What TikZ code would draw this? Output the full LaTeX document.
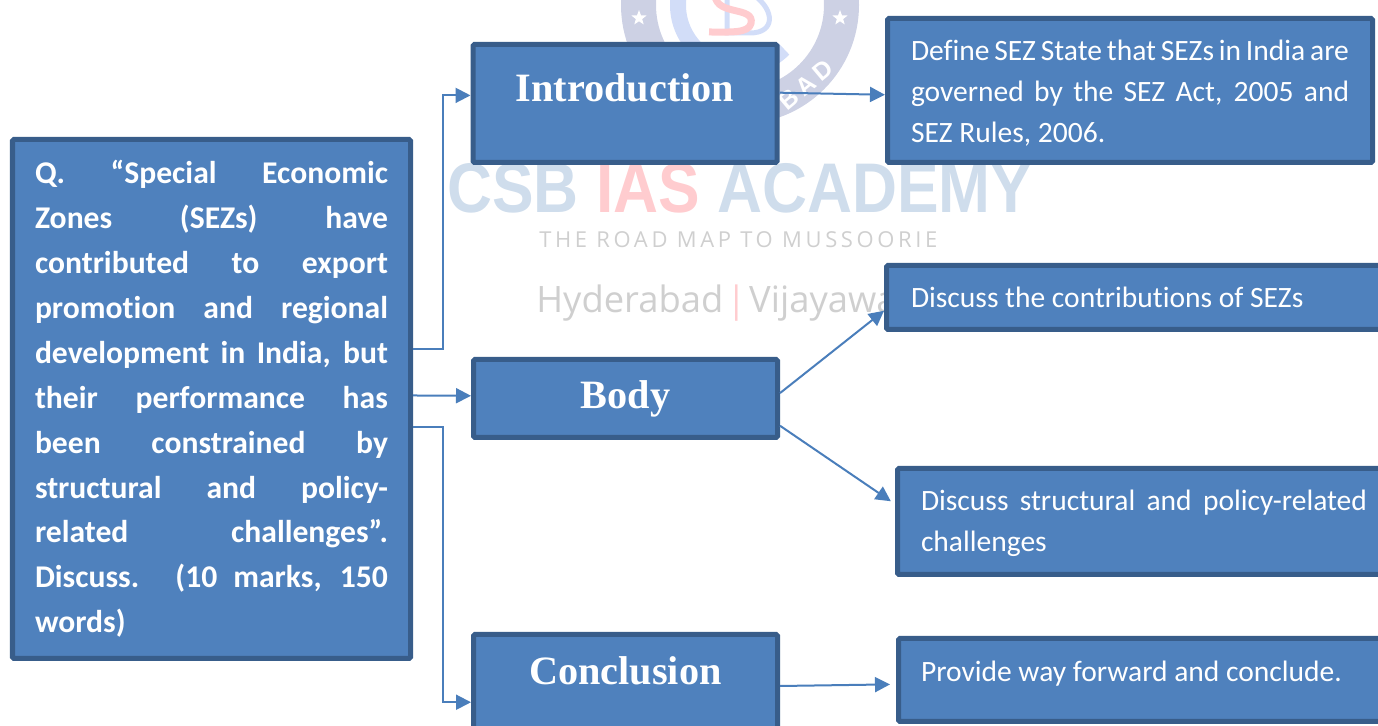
\documentclass[tikz,border=0pt]{standalone}
\usepackage{fontspec}
\usetikzlibrary{arrows.meta,shapes.geometric}
\setmainfont[Ligatures=NoCommon]{Carlito}
\newfontfamily\headfont{Liberation Serif}
\newfontfamily\markfont{Liberation Sans}
\newfontfamily\arcfont[LetterSpace=20]{Liberation Sans}
\newfontfamily\roadfont[LetterSpace=16.5]{Open Sans}
\newfontfamily\cityfont{Open Sans}
\definecolor{boxfill}{HTML}{4F81BD}
\definecolor{boxline}{HTML}{385D8A}
\definecolor{linkblue}{HTML}{4A7EBB}
\definecolor{ringgrey}{HTML}{CDD1E4}
\definecolor{ringblue}{HTML}{D2DDF8}
\definecolor{markblue}{HTML}{CFDDEC}
\definecolor{markred}{HTML}{FFCCCF}
\definecolor{markgrey}{HTML}{CFCFCF}
\newcommand{\jline}[1]{\makebox[\hsize][s]{#1}\\}
\begin{document}
\begin{tikzpicture}[
    box/.style={rectangle, draw=boxline, fill=boxfill, line width=.1cm, rounded corners=.03cm, text=white, inner sep=0pt},
    headbox/.style={box, minimum width=6.08cm, text height=.5cm, font=\headfont\fontsize{22.9}{27}\selectfont\bfseries},
    notebox/.style={box, align=flush left, font=\fontsize{16.8}{23.3}\selectfont},
    link/.style={draw=linkblue, line width=.04cm, -{Triangle[length=.3cm,width=.3cm]}},
    ringstar/.style={star, star points=5, star point ratio=2.4, fill=white, minimum size=.32cm, inner sep=0pt}
]
\clip (0,0) rectangle (27.56,14.52);
\useasboundingbox (0,0) rectangle (27.56,14.52);

% Watermark
\draw[ringgrey, line width=.7cm] (14.8,14.42) circle (2.03cm);
\draw[ringblue, line width=.32cm] (14.8,14.42) ++(170:1.24) arc (170:315:1.24);
\node[ringstar] (starleft) at (12.78,14.16) {};
\node[ringstar] (starright) at (16.8,14.16) {};
\draw[ringblue, line width=.1cm] (14.54,14.6) -- (14.54,13.86) -- (15.0,13.86) .. controls (15.5,13.86) and (15.5,14.3) .. (15.1,14.6);
\draw[markred, line width=.14cm] (14.3,14.6) .. controls (14.35,14.2) and (15.1,14.4) .. (15.02,14.05) .. controls (14.97,13.85) and (14.6,13.88) .. (14.18,13.88);
\node[font=\arcfont\bfseries\fontsize{14}{16}\selectfont, text=white, rotate=40] (cityarc) at (16.12,12.82) {BAD};
\node[font=\markfont\bfseries\fontsize{40}{44}\selectfont, text=markblue, anchor=base west, inner sep=0pt, xscale=.886, transform shape] (markname) at (8.94,10.26) {CSB \textcolor{markred}{IAS} ACADEMY};
\node[font=\roadfont\fontsize{12.5}{15}\selectfont, text=markgrey, anchor=base west, inner sep=0pt] (markroad) at (10.78,9.56) {THE ROAD MAP TO MUSSOORIE};
\node[font=\cityfont\fontsize{20.7}{26}\selectfont, text=markgrey, anchor=base west, inner sep=0pt] (markcity) at (10.72,8.26) {\spaceskip=.08em Hyderabad \textcolor{markred}{|} Vijayawa};

% Question
\node[box, align=flush left, inner xsep=.45cm, text width=7.06cm, minimum height=10.38cm, font=\bfseries\fontsize{18}{25.55}\selectfont] (qbox) at (4.23,6.54) {%
\jline{Q. “Special Economic}
\jline{Zones (SEZs) have}
\jline{contributed to export}
\jline{promotion and regional}
\jline{development in India, but}
\jline{their performance has}
\jline{been constrained by}
\jline{structural and policy-}
\jline{related challenges”.}
\jline{Discuss. (10 marks, 150}
words)};

% Headings
\node[headbox, minimum height=2.36cm, text depth=.56cm] (introbox) at (12.5,12.45) {Introduction};
\node[headbox, minimum height=1.56cm, text depth=.08cm] (bodybox) at (12.51,6.55) {Body};
\node[headbox, minimum height=2.06cm, text depth=.54cm] (conclbox) at (12.51,.8) {Conclusion};

% Notes
\node[notebox, inner xsep=.47cm, text width=8.76cm, minimum height=2.88cm, text height=.4cm, text depth=1.58cm] (definebox) at (22.6,12.71) {%
\jline{Define SEZ State that SEZs in India are}
\jline{governed by the SEZ Act, 2005 and}
SEZ Rules, 2006.};
\node[notebox, inner xsep=.49cm, text width=9.04cm, minimum height=1.28cm] (contribbox) at (22.74,8.57) {Discuss the contributions of SEZs};
\node[notebox, inner xsep=.47cm, text width=8.92cm, minimum height=2.12cm, text height=.4cm, text depth=.82cm] (structbox) at (22.88,4.09) {%
\jline{Discuss structural and policy-related}
challenges};
\node[notebox, inner xsep=.45cm, text width=8.9cm, minimum height=1.66cm, text height=.44cm, text depth=.36cm] (providebox) at (22.87,.92) {Provide way forward and conclude.};

% Connectors
\coordinate (trunk) at (8.86,6.54);
\draw[link] (qbox.14) -- (qbox.14 -| trunk) -- (trunk |- introbox.177) -- (introbox.177);
\draw[link] (qbox.1) -- (bodybox.179);
\draw[link] (qbox.-8) -- (qbox.-8 -| trunk) -- (trunk |- conclbox.186) -- (conclbox.186);
\draw[link] (introbox.4) -- (definebox.181);
\draw[link] (bodybox.2.4) -- (contribbox.183.3);
\draw[link, shorten >=.1cm] (bodybox.-10.5) -- (structbox.176.6);
\draw[link, shorten >=.12cm] (conclbox.0.4) -- (providebox.181.6);
\end{tikzpicture}
\end{document}
